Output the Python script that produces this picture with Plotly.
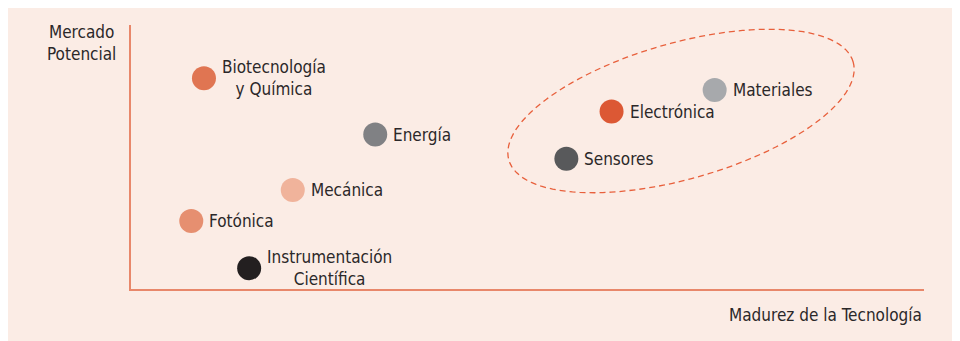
import numpy as np
import plotly.graph_objects as go

# technologies (0-100 scale on both axes)
labels = ['Biotecnología<br>y Química', 'Energía', 'Mecánica', 'Fotónica',
          'Instrumentación<br>Científica', 'Electrónica', 'Materiales', 'Sensores']
madurez = [9.2, 30.8, 20.4, 7.6, 14.9, 60.6, 73.6, 54.9]
mercado = [79.8, 58.5, 37.5, 25.8, 7.9, 67.2, 75.4, 49.3]
colores = ['#E07552', '#808184', '#F0B39B', '#E68F70',
           '#231F20', '#DC5834', '#A7A9AC', '#58595B']

x_title = 'Madurez de la Tecnología'
y_title = 'Mercado<br>Potencial'

FONT = 'Liberation Sans Narrow, DejaVu Sans Condensed, Arial Narrow, sans-serif'
TEXT = '#2b2829'
AXIS = '#E8876A'
BG = '#FBECE5'

# page puts the figure 8px in from the window corner
OFF = 8
W, H = 960 - OFF, 341 - OFF
# plot area (window pixels): x 131..924, y 25..289
L, T = 131 - OFF, 25 - OFF
pw, ph = 924 - 131, 289 - 25
R, B = W - L - pw, H - T - ph


def px_to_data(px, py):
    # window pixels -> data units
    return (np.asarray(px) - 131) / pw * 100, (289 - np.asarray(py)) / ph * 100


def px_to_paper(px, py):
    return (px - 131) / pw, (289 - py) / ph


fig = go.Figure()

fig.add_trace(go.Scatter(
    x=madurez, y=mercado, mode='markers',
    marker=dict(size=24, color=colores, line=dict(width=0)),
    hoverinfo='skip', showlegend=False))

for lab, xv, yv in zip(labels, madurez, mercado):
    fig.add_annotation(x=xv, y=yv, text=lab, showarrow=False,
                       xanchor='left', yanchor='middle', align='center',
                       xshift=16, font=dict(family=FONT, size=17, color=TEXT))

# dashed ellipse around the mature group (drawn in pixel space)
t = np.linspace(0, 2 * np.pi, 121)
cx, cy, a, b, th = 681, 111, 179, 68, np.radians(15.9)
ex = cx + a * np.cos(t) * np.cos(th) - b * np.sin(t) * np.sin(th)
ey = cy - (a * np.cos(t) * np.sin(th) + b * np.sin(t) * np.cos(th))
dx, dy = px_to_data(ex, ey)
path = 'M ' + ' L '.join(f'{u:.3f},{v:.3f}' for u, v in zip(dx, dy)) + ' Z'
fig.add_shape(type='path', path=path, xref='x', yref='y',
              line=dict(color='#E8603C', width=1.3, dash='6px,4px'))

# peach background panel
bx0, by0 = px_to_paper(7, 345)
bx1, by1 = px_to_paper(965, 5)
fig.add_shape(type='rect', xref='paper', yref='paper', layer='below',
              x0=bx0, x1=bx1, y0=by0, y1=by1,
              fillcolor=BG, line=dict(width=0))

tx, ty = px_to_paper(81, 43)
fig.add_annotation(xref='paper', yref='paper', x=tx, y=ty,
                   text=y_title, showarrow=False, xanchor='center', yanchor='middle',
                   align='center', font=dict(family=FONT, size=17, color=TEXT))
fig.add_annotation(xref='paper', yref='paper', x=1, y=0, yshift=-26,
                   text=x_title, showarrow=False, xanchor='right', yanchor='middle',
                   font=dict(family=FONT, size=17, color=TEXT))

axis = dict(range=[0, 100], showline=True, linecolor=AXIS, linewidth=1.5,
            showgrid=False, zeroline=False, showticklabels=False, ticks='')
fig.update_layout(
    width=W, height=H,
    margin=dict(l=L, r=R, t=T, b=B),
    paper_bgcolor='white', plot_bgcolor='rgba(0,0,0,0)',
    xaxis=axis, yaxis=axis,
)

fig.write_html('out.html')
